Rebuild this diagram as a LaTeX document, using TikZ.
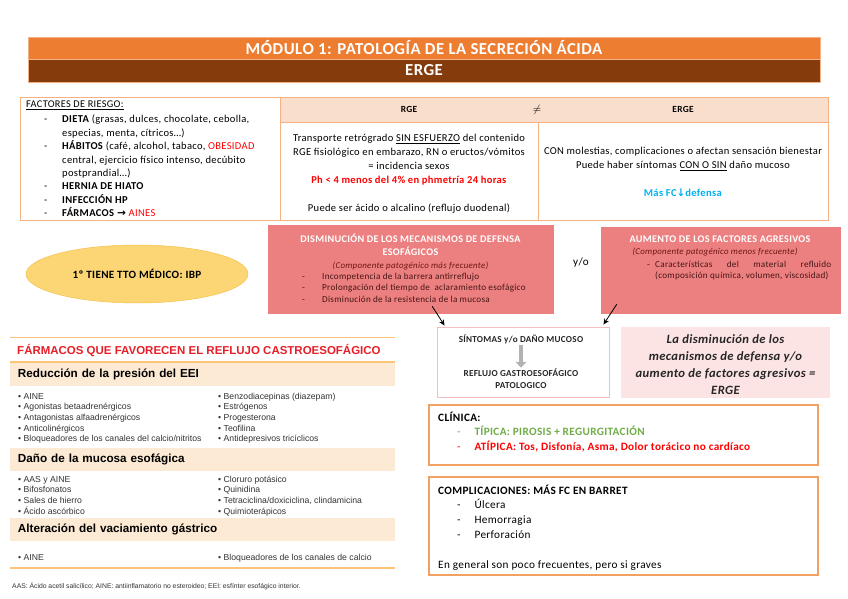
\documentclass[tikz,border=0pt]{standalone}
\usepackage{fontspec}
\setmainfont{Carlito}[LetterSpace=3.0]
\newfontfamily\arialfont{Liberation Sans}
\newfontfamily\symfont{DejaVu Sans}
\usepackage{xcolor}
\definecolor{hdrorange}{RGB}{237,125,49}
\definecolor{hdrbrown}{RGB}{132,60,12}
\definecolor{peachline}{RGB}{244,177,131}
\definecolor{peachfill}{RGB}{250,222,204}
\definecolor{defpink}{RGB}{236,128,128}
\definecolor{defdark}{RGB}{70,20,20}
\definecolor{defsub}{RGB}{110,20,20}
\definecolor{lightpink}{RGB}{252,228,228}
\definecolor{sintedge}{RGB}{244,190,190}
\definecolor{boxorange}{RGB}{242,160,100}
\definecolor{tipgreen}{RGB}{112,173,71}
\definecolor{fcblue}{RGB}{0,176,240}
\definecolor{ibpgold}{RGB}{252,214,117}
\definecolor{ibpedge}{RGB}{244,190,70}
\definecolor{drugred}{RGB}{232,30,40}
\definecolor{drugline}{RGB}{251,196,120}
\definecolor{drugband}{RGB}{253,234,212}
\usepackage{tikz}
\usetikzlibrary{
    arrows.meta,
    positioning,
    shapes.geometric
}
\tikzset{
    hdrbar/.style    = {rectangle, draw=peachline, fill=hdrorange, minimum width=23.76cm,
                        minimum height=0.66cm, inner sep=0pt, text=white,
                        font=\fontsize{14.3}{15}\selectfont\bfseries},
    riskbox/.style   = {rectangle, draw=peachline, thick, minimum width=7.8cm,
                        minimum height=3.69cm},
    risktext/.style  = {inner sep=0pt, font=\fontsize{9}{11.4}\selectfont},
    tabhead/.style   = {rectangle, draw=peachline, thick, fill=peachfill,
                        minimum height=0.75cm},
    tabbody/.style   = {rectangle, draw=peachline, thick, minimum height=2.94cm},
    tabtext/.style   = {inner sep=0pt, font=\fontsize{9}{12}\selectfont},
    defbox/.style    = {rectangle, draw=defpink, fill=defpink},
    deftitle/.style  = {inner sep=0pt, text=white, font=\fontsize{8.7}{11.1}\selectfont\bfseries},
    defsubt/.style   = {inner sep=0pt, text=defsub, font=\fontsize{7.6}{9}\selectfont\itshape},
    defitem/.style   = {inner sep=0pt, text=defdark, font=\fontsize{7.8}{9.8}\selectfont},
    ibp/.style       = {ellipse, draw=ibpedge, fill=ibpgold, minimum width=6.66cm,
                        minimum height=1.74cm, font=\fontsize{9.5}{11}\selectfont\bfseries},
    sintbox/.style   = {rectangle, draw=sintedge, thick, minimum width=5.16cm,
                        minimum height=2.1cm},
    sinttext/.style  = {inner sep=1pt, align=center, text=black!85,
                        font=\fontsize{7.8}{10.2}\selectfont\bfseries},
    eqbox/.style     = {rectangle, fill=lightpink, minimum width=6.27cm, minimum height=2.13cm},
    eqtext/.style    = {inner sep=0pt, text=black!85, font=\fontsize{10.8}{14.5}\selectfont\bfseries\itshape},
    clinbox/.style   = {rectangle, draw=boxorange, very thick, minimum width=11.67cm},
    clintext/.style  = {inner sep=0pt, font=\fontsize{9.6}{12.8}\selectfont},
    drugrule/.style  = {draw=drugline, line width=0.8pt},
    drugtitle/.style = {inner sep=0pt, text=drugred, font=\arialfont\fontsize{9.8}{11}\selectfont\bfseries},
    drugsec/.style   = {rectangle, fill=drugband, minimum width=11.55cm, minimum height=0.69cm,
                        text width=11.07cm, inner xsep=0.24cm, align=left,
                        font=\arialfont\fontsize{10}{11}\selectfont\bfseries},
    drugitem/.style  = {inner sep=0pt, text=black!80, font=\arialfont\fontsize{7.4}{8}\selectfont},
    drugnote/.style  = {inner sep=0pt, text=black!80, font=\arialfont\fontsize{5.8}{6}\selectfont},
    arrowk/.style    = {-{Stealth[length=5pt,width=4.5pt]}, line width=0.7pt},
    grayarrow/.style = {-{Triangle[length=5pt,width=9pt]}, line width=4pt, draw=gray!60}
}

\begin{document}
\begin{tikzpicture}[x=0.03cm, y=-0.03cm]
\useasboundingbox (0,0) rectangle (848,599);
\fill[white] (0,0) rectangle (848,599);

% cabecera
\node[hdrbar] (modulo) at (424,48) {MÓDULO 1: PATOLOGÍA DE LA SECRECIÓN ÁCIDA};
\node[hdrbar, fill=hdrbrown, minimum height=0.69cm] (ergebar) at (424,70.5) {ERGE};

% factores de riesgo
\node[riskbox] (riesgo) at (150,158.5) {};
\node[risktext, anchor=base west, font=\fontsize{8.8}{9}\selectfont] (riesgotit) at (26,108)
   {\underline{FACTORES DE RIESGO:}};
\node[risktext, anchor=base west] (riesgolist) at (44,123) {\begin{tabular}[t]{@{}p{0.54cm}@{}l@{}}
 - & \textbf{DIETA} (grasas, dulces, chocolate, cebolla,\\
   & especias, menta, cítricos…)\\
 - & \textbf{HÁBITOS} (café, alcohol, tabaco, \textcolor{red}{OBESIDAD}\\
   & central, ejercicio físico intenso, decúbito\\
   & postprandial…)\\
 - & \textbf{HERNIA DE HIATO}\\
 - & \textbf{INFECCIÓN HP}\\
 - & \textbf{FÁRMACOS} {\symfont\bfseries →} \textcolor{red}{AINES}
\end{tabular}};

% RGE frente a ERGE
\node[tabhead, minimum width=16.44cm] (cmphd) at (554,109.5) {};
\node[risktext, font=\fontsize{8}{9}\selectfont\bfseries] (rgehd) at (409,109.5) {RGE};
\node[risktext, font=\fontsize{9}{9}\selectfont] (neqhd) at (537,109.5) {$\neq$};
\node[risktext, font=\fontsize{8}{9}\selectfont\bfseries] (ergehd) at (683,109.5) {ERGE};
\node[tabbody, minimum width=7.74cm] (rgebd) at (409,171) {};
\node[tabbody, minimum width=8.7cm] (ergebd) at (683,171) {};
\node[tabtext] (rgetxt) at (409,174) {\begin{tabular}{@{}c@{}}
 Transporte retrógrado \underline{SIN ESFUERZO} del contenido\\
 RGE fisiológico en embarazo, RN o eructos/vómitos\\
 = incidencia sexos\\
 \textcolor{red}{\textbf{Ph < 4 menos del 4\% en phmetría 24 horas}}\\
 \\
 Puede ser ácido o alcalino (reflujo duodenal)
\end{tabular}};
\node[tabtext] (ergetxt) at (683,173) {\begin{tabular}{@{}c@{}}
 CON molestias, complicaciones o afectan sensación bienestar\\
 Puede haber síntomas \underline{CON O SIN} daño mucoso\\
 \\
 \textcolor{fcblue}{\textbf{Más FC{\symfont ↓}defensa}}
\end{tabular}};

% tratamiento
\node[ibp] (ibpnode) at (137,274) {1º TIENE TTO MÉDICO: IBP};

% mecanismos
\node[defbox, minimum width=8.55cm, minimum height=2.64cm] (dism) at (410.5,269) {};
\node[deftitle, anchor=base] (dismtit) at (410.5,242.5) {DISMINUCIÓN DE LOS MECANISMOS DE DEFENSA};
\node[deftitle, anchor=base] (dismtit2) at (410.5,255.5) {ESOFÁGICOS};
\node[defsubt, anchor=base] (dismsub) at (410.5,268.5) {(Componente patogénico más frecuente)};
\node[defitem, anchor=base west] (dismlist) at (302,279.5) {\begin{tabular}[t]{@{}p{0.6cm}@{}l@{}}
 - & Incompetencia de la barrera antirreflujo\\
 - & Prolongación del tiempo de \ aclaramiento esofágico\\
 - & Disminución de la resistencia de la mucosa
\end{tabular}};

\node[risktext, font=\fontsize{9.5}{11}\selectfont] (yo) at (581,263) {y/o};

\node[defbox, minimum width=7.17cm, minimum height=2.58cm] (aum) at (720.5,270) {};
\node[deftitle, anchor=base] (aumtit) at (720,242.5) {AUMENTO DE LOS FACTORES AGRESIVOS};
\node[defsubt, anchor=base] (aumsub) at (715,254.5) {(Componente patogénico menos frecuente)};
\node[defitem, anchor=base west] (aumlist) at (647,267.5) {\begin{tabular}[t]{@{}p{0.24cm}@{}l@{}}
 - & \makebox[5.28cm][s]{Características del material refluido}\\
   & (composición química, volumen, viscosidad)
\end{tabular}};

% consecuencia
\node[sintbox] (sint) at (523,362) {};
\node[sinttext] (sinttxt) at (521,339) {SÍNTOMAS y/o DAÑO MUCOSO};
\node[sinttext] (refltxt) at (521,379) {REFLUJO GASTROESOFÁGICO\\PATOLOGICO};
\draw[grayarrow] (sinttxt) -- (refltxt);
\draw[arrowk] ([xshift=0.65cm,yshift=0.21cm]dism.south) -- ([xshift=0.24cm,yshift=0.03cm]sint.north west);
\draw[arrowk] ([xshift=0.48cm,yshift=0.27cm]aum.south west) -- ([xshift=-0.18cm,yshift=0.06cm]sint.north east);

\node[eqbox] (igual) at (725.5,362.5) {};
\node[eqtext] (igualtxt) at (725.5,366) {\begin{tabular}{@{}c@{}}
 La disminución de los\\mecanismos de defensa y/o\\aumento de factores agresivos =\\ERGE
\end{tabular}};

% clinica y complicaciones
\node[clinbox, minimum height=1.8cm] (clin) at (623.5,435) {};
\node[clintext, anchor=base west] (clintxt) at (438,421) {\begin{tabular}[t]{@{\hspace{0.57cm}}p{0.52cm}@{}l@{}}
 \multicolumn{2}{@{}l}{\textbf{CLÍNICA:}}\\
 \textcolor{tipgreen}{-} & \textcolor{tipgreen}{\textbf{TÍPICA: PIROSIS + REGURGITACIÓN}}\\
 \textcolor{red}{-} & \textcolor{red}{\textbf{ATÍPICA: Tos, Disfonía, Asma, Dolor torácico no cardíaco}}
\end{tabular}};

\node[clinbox, minimum height=2.94cm] (compl) at (623.5,526) {};
\node[clintext, anchor=base west] (compltxt) at (438,494) {\begin{tabular}[t]{@{\hspace{0.57cm}}p{0.52cm}@{}l@{}}
 \multicolumn{2}{@{}l}{\textbf{COMPLICACIONES: MÁS FC EN BARRET}}\\
 - & Úlcera\\
 - & Hemorragia\\
 - & Perforación\\
 \\
 \multicolumn{2}{@{}l}{En general son poco frecuentes, pero si graves}
\end{tabular}};

% tabla de farmacos
\draw[drugrule] (10,337) -- (395,337);
\node[drugtitle, anchor=west] (drugtit) at (17,351) {FÁRMACOS QUE FAVORECEN EL REFLUJO CASTROESOFÁGICO};
\draw[drugrule, line width=1.3pt] (10,362) -- (395,362);
\node[drugsec] (sec1) at (202.5,374.5) {Reducción de la presión del EEI};
\node[drugsec] (sec2) at (202.5,459.5) {Daño de la mucosa esofágica};
\node[drugsec] (sec3) at (202.5,529.5) {Alteración del vaciamiento gástrico};
\draw[drugrule, line width=1.3pt] (10,568) -- (395,568);

\foreach \txt [count=\i] in {AINE, Agonistas betaadrenérgicos, Antagonistas alfaadrenérgicos,
   Anticolinérgicos, Bloqueadores de los canales del calcio/nitritos}
   \node[drugitem, anchor=base west] (redl\i) at (18,{399+10.7*(\i-1)}) {• \txt};
\foreach \txt [count=\i] in {Benzodiacepinas (diazepam), Estrógenos, Progesterona,
   Teofilina, Antidepresivos tricíclicos}
   \node[drugitem, anchor=base west] (redr\i) at (218,{399+10.7*(\i-1)}) {• \txt};
\foreach \txt [count=\i] in {AAS y AINE, Bifosfonatos, Sales de hierro, Ácido ascórbico}
   \node[drugitem, anchor=base west] (danl\i) at (18,{482+10.7*(\i-1)}) {• \txt};
\foreach \txt [count=\i] in {Cloruro potásico, Quinidina,
   {Tetraciclina/doxiciclina, clindamicina}, Quimioterápicos}
   \node[drugitem, anchor=base west] (danr\i) at (218,{482+10.7*(\i-1)}) {• \txt};
\node[drugitem, anchor=base west] (vacl1) at (18,560) {• AINE};
\node[drugitem, anchor=base west] (vacr1) at (218,560) {• Bloqueadores de los canales de calcio};
\node[drugnote, anchor=base west] (nota) at (12,588)
   {AAS: Ácido acetil salicílico; AINE: antiinflamatorio no esteroideo; EEI: esfínter esofágico interior.};
\end{tikzpicture}
\end{document}
